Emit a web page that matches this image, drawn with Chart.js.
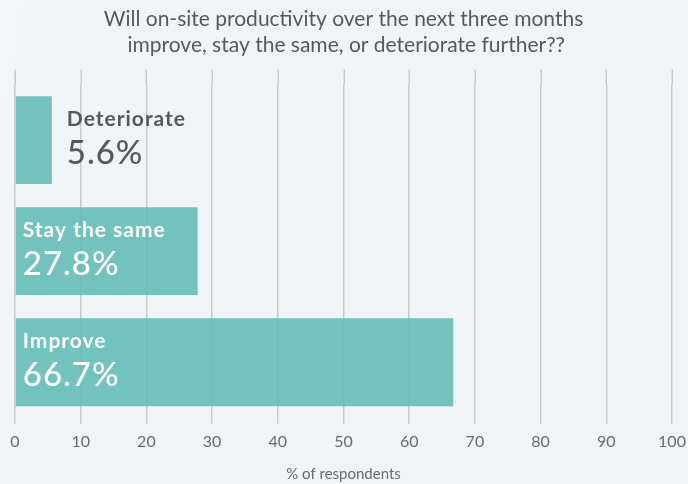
<!DOCTYPE html>
<html>
<head>
<meta charset="utf-8">
<script src="https://cdn.jsdelivr.net/npm/chart.js@4"></script>
<style>
  html, body { margin: 0; padding: 0; background: #f1f4f7; }
  #wrap { width: 688px; height: 484px; position: relative;
          background: linear-gradient(100deg, #f5f7f9 0%, #f1f4f7 6%, #f1f4f7 100%); }
</style>
</head>
<body>
<div id="wrap"><canvas id="c" width="688" height="484"></canvas></div>
<script>
const categories = ['Deteriorate', 'Stay the same', 'Improve'];
const shares = [5.6, 27.8, 66.7];
const xTicks = [0, 10, 20, 30, 40, 50, 60, 70, 80, 90, 100];

const FONT = 'Lato, "Open Sans", sans-serif';
const TEXT = '#58585a';

// Stretch the vertical gridlines a little above the plot area.
const gridExtend = {
  id: 'gridExtend',
  beforeDatasetsDraw(chart) {
    const { ctx, chartArea, scales } = chart;
    const x = scales.x;
    ctx.save();
    ctx.strokeStyle = '#c9c9cb';
    ctx.lineWidth = 1.5;
    xTicks.forEach(v => {
      const px = Math.round(x.getPixelForValue(v)) + 0.25;
      ctx.beginPath();
      ctx.moveTo(px, chartArea.top - 15);
      ctx.lineTo(px, chartArea.top);
      ctx.stroke();
    });
    ctx.restore();
  }
};

// Category name and percentage written on (or beside) each bar.
const barLabels = {
  id: 'barLabels',
  afterDatasetsDraw(chart) {
    const { ctx } = chart;
    const meta = chart.getDatasetMeta(0);
    ctx.save();
    ctx.textAlign = 'left';
    ctx.textBaseline = 'middle';
    meta.data.forEach((bar, i) => {
      const v = shares[i];
      const inside = v > 15;
      const tx = inside ? bar.base + 7 : bar.x + 15;
      ctx.fillStyle = inside ? '#ffffff' : TEXT;
      ctx.letterSpacing = '1px';
      ctx.font = 'bold 21px ' + FONT;
      ctx.fillText(categories[i], tx, bar.y - 21);
      ctx.font = '500 33px ' + FONT;
      ctx.fillText(v.toFixed(1) + '%', tx, bar.y + 13);
    });
    ctx.restore();
  }
};

new Chart(document.getElementById('c'), {
  type: 'bar',
  data: {
    labels: categories,
    datasets: [{
      data: shares,
      backgroundColor: 'rgba(100, 189, 182, 0.9)',
      borderWidth: 0,
      barPercentage: 0.79,
      categoryPercentage: 1
    }]
  },
  options: {
    indexAxis: 'y',
    responsive: false,
    animation: false,
    events: [],
    layout: { padding: { left: 15, right: 16, top: 6, bottom: 0 } },
    plugins: {
      legend: { display: false },
      tooltip: { enabled: false },
      title: {
        display: true,
        text: ['Will on-site productivity over the next three months', ' improve, stay the same, or deteriorate further??'],
        color: TEXT,
        font: { family: FONT, size: 21, weight: '400', lineHeight: 1.25 },
        padding: { top: 0, bottom: 26 }
      }
    },
    scales: {
      x: {
        type: 'linear',
        min: 0,
        max: 100,
        afterBuildTicks(scale) { scale.ticks = xTicks.map(v => ({ value: v })); },
        // side margins come from layout padding alone
        afterFit(scale) { scale.paddingLeft = 0; scale.paddingRight = 0; },
        grid: { color: '#c9c9cb', lineWidth: 1.5, tickLength: 6, drawTicks: true },
        border: { display: false },
        ticks: { color: '#6a6a6c', font: { family: FONT, size: 16 }, padding: 8 },
        title: {
          display: true,
          text: '% of respondents',
          color: '#6a6a6c',
          font: { family: FONT, size: 15 },
          padding: { top: 6, bottom: 1 }
        }
      },
      y: {
        display: false,
        grid: { display: false }
      }
    }
  },
  plugins: [gridExtend, barLabels]
});
</script>
</body>
</html>
